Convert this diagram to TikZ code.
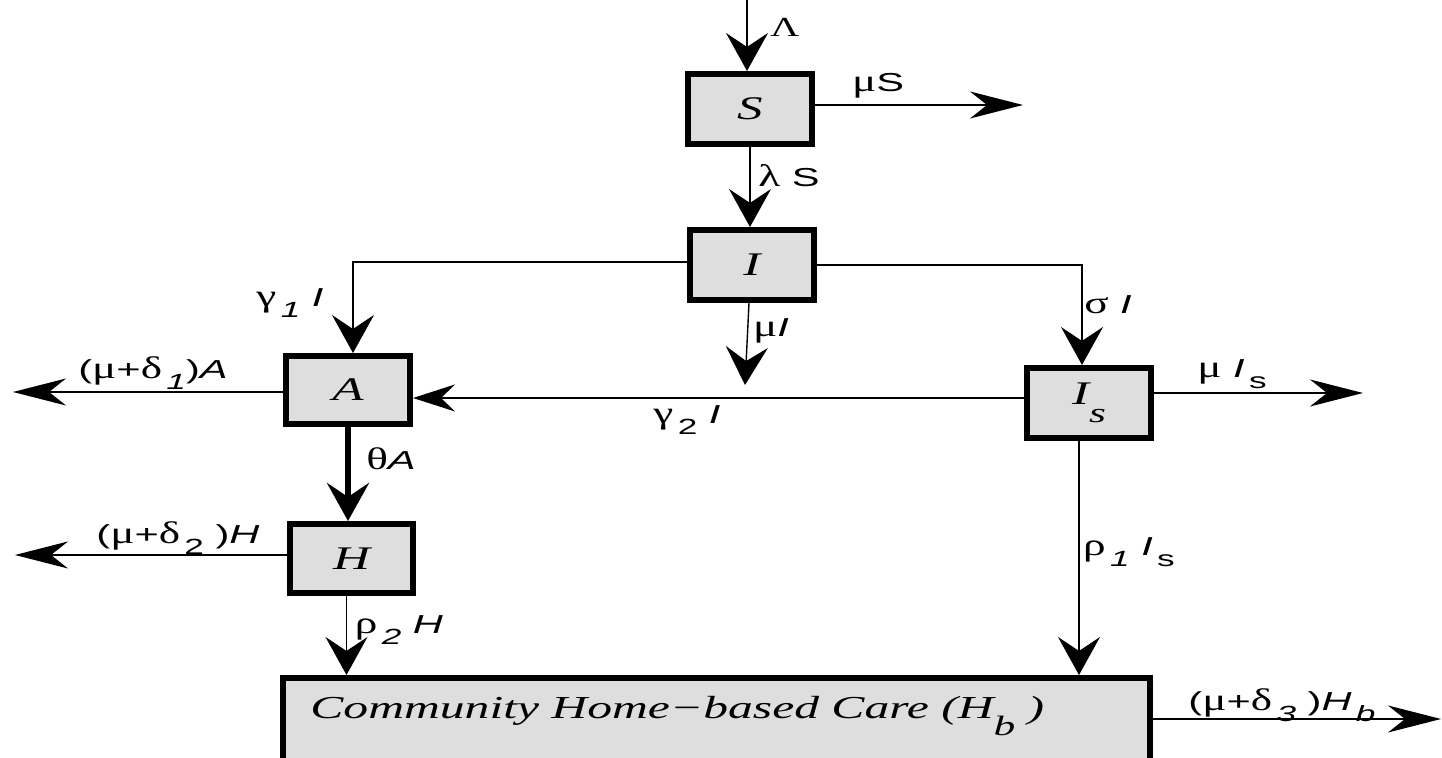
\documentclass[tikz,border=0pt]{standalone}
\usepackage{fontspec}
\setmainfont[FakeStretch=1.55]{Liberation Serif}
\newfontfamily\lf[FakeStretch=1.6]{Liberation Sans}
\newfontfamily\gf[FakeStretch=1.45,Scale=1.2]{Liberation Serif}
\usetikzlibrary{arrows.meta}
\definecolor{boxgray}{HTML}{DEDEDE}
\newcommand\gk[1]{{\gf #1}}
\newcommand\sbx[1]{\,\raisebox{-0.8ex}{\fontsize{11}{12}\selectfont #1}}
\newcommand\bsub[1]{\raisebox{-1.15ex}{\fontsize{14}{15}\selectfont\itshape #1}}
\begin{document}
\begin{tikzpicture}[x=0.5pt,y=-0.5pt,
  comp/.style={draw=black, fill=boxgray, line width=3pt, minimum width=62pt,
    minimum height=35pt, inner sep=0pt, font=\fontsize{16.5}{18}\selectfont\itshape},
  flow/.style={line width=0.7pt},
  vh/.style={flow,-{Stealth[length=19pt,width=21pt,inset=7pt]}},
  hh/.style={flow,-{Stealth[length=26.5pt,width=13.5pt,inset=8.5pt]}},
  hs/.style={flow,-{Stealth[length=21pt,width=13.5pt,inset=7pt]}},
  lab/.style={inner sep=0pt, font=\lf\fontsize{13}{15}\selectfont},
]
\useasboundingbox (0,0) rectangle (1442,758);
\clip (0,0) rectangle (1442,758);

% compartments
\node[comp] (S)  at (750,109) {S};
\node[comp] (I)  at (752,265) {I};
\node[comp, minimum height=34pt] (A)  at (348,390) {A};
\node[comp, minimum width=61.5pt, minimum height=34.5pt] (H)  at (351.5,558.5) {H};
\node[comp] (Is) at (1089,403) {I\bsub{s}};
\node[comp, minimum width=433.5pt, minimum height=62pt] (Hb) at (716.5,740) {};
\node[anchor=west, inner sep=0pt, font=\fontsize{16}{18}\selectfont\itshape] (Hbt) at (310,716)
  {Community Home−based Care (H\bsub{b}\ )};

% free ends
\coordinate (lt)   at (747,0);
\coordinate (muS)  at (1023,105);
\coordinate (muI)  at (745,385);
\coordinate (outA) at (13,392);
\coordinate (outH) at (15,555);
\coordinate (outIs) at (1363,393);
\coordinate (outHb) at (1441,719);

% connectors
\draw[vh] (lt) -- (lt |- S.north);
\draw[vh] (S.south) -- (S.south |- I.north);
\draw[hh] (S.east |- muS) -- (muS);
\draw[vh] (I.west |- 0,262) -| ([xshift=2.5pt]A.north);
\draw[vh] (I.east) -| ([xshift=-3.5pt]Is.north);
\draw[vh] (I.south -| 749,0) -- (muI);
\draw[hs] (Is.west |- 0,398) -- (A.east |- 0,398);
\draw[hh] (A.west |- outA) -- (outA);
\draw[vh, line width=2.6pt] (A.south) -- (A.south |- H.north);
\draw[hh] (H.west |- outH) -- (outH);
\draw[vh] ([xshift=-2.5pt]H.south) -- ([xshift=-2.5pt]H.south |- Hb.north);
\draw[hh] (Is.east |- outIs) -- (outIs);
\draw[vh] ([xshift=-5pt]Is.south) -- ([xshift=-5pt]Is.south |- Hb.north);
\draw[hh] (Hb.east |- outHb) -- (outHb);

% labels
\node[lab, font=\gf\fontsize{11.5}{12}\selectfont] (lLam) at (785,27) {Λ};
\node[lab] (lmuS) at (878,86) {\gk{μ}S};
\node[lab] (llam) at (789,176) {\gk{λ} S};
\node[lab] (lg1)  at (290,303) {\gk{γ}\sbx{\textit{1}} \textit{I}};
\node[lab] (lmuI) at (771,331) {\gk{μ}\textit{I}};
\node[lab] (lsig) at (1108,305) {\gk{σ} \textit{I}};
\node[lab] (ldA)  at (153,373) {(\gk{μ}+\gk{δ}\sbx{\textit{1}})\textit{A}};
\node[lab] (lth)  at (391,459) {\gk{θ}\textit{A}};
\node[lab] (lg2)  at (687,420) {\gk{γ}\sbx{2} \textit{I}};
\node[lab] (lmuIs) at (1232,374) {\gk{μ} \textit{I}\sbx{s}};
\node[lab] (lr1)  at (1129,552) {\gk{ρ}\sbx{\textit{1}} \textit{I}\sbx{s}};
\node[lab] (ldH)  at (178,538) {(\gk{μ}+\gk{δ}\sbx{2} )\textit{H}};
\node[lab] (lr2)  at (399,630) {\gk{ρ}\sbx{\textit{2}} \textit{H}};
\node[lab] (ldHb) at (1282,705) {(\gk{μ}+\gk{δ}\sbx{\textit{3}} )\textit{H}\sbx{\textit{b}}};
\end{tikzpicture}
\end{document}
